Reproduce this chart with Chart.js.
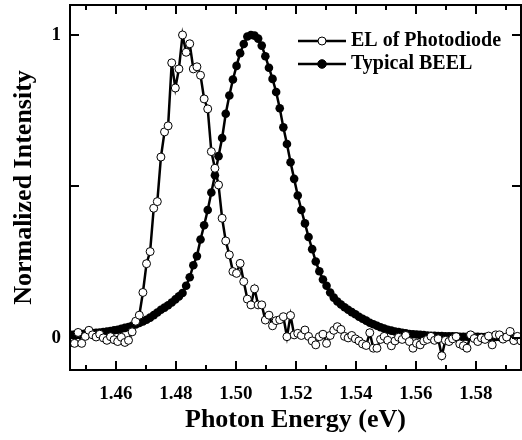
<!DOCTYPE html>
<html lang="en">
<head>
  <meta charset="UTF-8">
  <title>EL vs BEEL spectra</title>
  <script src="https://cdn.jsdelivr.net/npm/chart.js"></script>
  <style>
    html, body { margin: 0; padding: 0; background: #fff; overflow: hidden; }
    canvas { display: block; }
  </style>
</head>
<body>
  <canvas id="spectra" width="526" height="440"></canvas>

  <script>
    // photon energy grid (eV), shared by both spectra
    const energy = [
      1.4450, 1.4462, 1.4474, 1.4486, 1.4498, 1.4510, 1.4522, 1.4534, 1.4546, 1.4558,
      1.4570, 1.4582, 1.4594, 1.4606, 1.4618, 1.4630, 1.4642, 1.4654, 1.4666, 1.4678,
      1.4690, 1.4702, 1.4714, 1.4726, 1.4738, 1.4750, 1.4762, 1.4774, 1.4786, 1.4798,
      1.4810, 1.4822, 1.4834, 1.4846, 1.4858, 1.4870, 1.4882, 1.4894, 1.4906, 1.4918,
      1.4930, 1.4942, 1.4954, 1.4966, 1.4978, 1.4990, 1.5002, 1.5014, 1.5026, 1.5038,
      1.5050, 1.5062, 1.5074, 1.5086, 1.5098, 1.5110, 1.5122, 1.5134, 1.5146, 1.5158,
      1.5170, 1.5182, 1.5194, 1.5206, 1.5218, 1.5230, 1.5242, 1.5254, 1.5266, 1.5278,
      1.5290, 1.5302, 1.5314, 1.5326, 1.5338, 1.5350, 1.5362, 1.5374, 1.5386, 1.5398,
      1.5410, 1.5422, 1.5434, 1.5446, 1.5458, 1.5470, 1.5482, 1.5494, 1.5506, 1.5518,
      1.5530, 1.5542, 1.5554, 1.5566, 1.5578, 1.5590, 1.5602, 1.5614, 1.5626, 1.5638,
      1.5650, 1.5662, 1.5674, 1.5686, 1.5698, 1.5710, 1.5722, 1.5734, 1.5746, 1.5758,
      1.5770, 1.5782, 1.5794, 1.5806, 1.5818, 1.5830, 1.5842, 1.5854, 1.5866, 1.5878,
      1.5890, 1.5902, 1.5914, 1.5926, 1.5938, 1.5950
    ];

    // normalized EL of the photodiode
    const elPhotodiode = [
      -0.015, -0.018, 0.018, -0.018, 0.005, 0.025, 0.010, 0.003, 0.012, 0.000,
      -0.008, 0.004, -0.006, -0.012, 0.002, -0.015, -0.008, 0.020, 0.055, 0.075,
      0.150, 0.245, 0.285, 0.428, 0.450, 0.597, 0.680, 0.700, 0.908, 0.825,
      0.888, 1.000, 0.943, 0.971, 0.888, 0.895, 0.867, 0.789, 0.756, 0.615,
      0.560, 0.505, 0.395, 0.320, 0.274, 0.219, 0.213, 0.246, 0.186, 0.128,
      0.109, 0.162, 0.109, 0.109, 0.059, 0.075, 0.040, 0.057, 0.060, 0.070,
      0.004, 0.074, 0.010, 0.015, 0.008, 0.026, 0.005, -0.010, -0.023, 0.004,
      0.012, -0.018, 0.008, 0.025, 0.037, 0.028, 0.005, 0.000, 0.008, -0.003,
      -0.010, -0.020, -0.025, 0.017, -0.034, -0.034, -0.005, 0.005, -0.008, -0.026,
      -0.010, 0.002, -0.005, 0.008, -0.012, -0.034, -0.018, -0.023, -0.010, -0.005,
      0.005, -0.008, -0.003, -0.059, -0.008, -0.012, -0.003, 0.004, -0.020, -0.026,
      -0.034, 0.010, -0.002, -0.012, 0.000, -0.005, 0.006, -0.023, 0.010, 0.010,
      -0.004, 0.003, 0.021, -0.009, 0.005, -0.010
    ];

    // normalized typical BEEL spectrum
    const typicalBeel = [
      0.010, 0.011, 0.012, 0.013, 0.014, 0.015, 0.016, 0.017, 0.018, 0.019,
      0.021, 0.023, 0.025, 0.027, 0.030, 0.033, 0.036, 0.040, 0.044, 0.049,
      0.054, 0.060, 0.067, 0.075, 0.084, 0.093, 0.100, 0.108, 0.117, 0.127,
      0.137, 0.148, 0.172, 0.200, 0.240, 0.270, 0.325, 0.372, 0.422, 0.480,
      0.537, 0.600, 0.660, 0.740, 0.800, 0.853, 0.898, 0.940, 0.970, 0.995,
      1.000, 0.998, 0.988, 0.965, 0.930, 0.892, 0.855, 0.812, 0.758, 0.695,
      0.640, 0.580, 0.525, 0.470, 0.422, 0.378, 0.333, 0.293, 0.252, 0.220,
      0.193, 0.172, 0.150, 0.133, 0.120, 0.110, 0.101, 0.093, 0.085, 0.078,
      0.070, 0.063, 0.057, 0.050, 0.045, 0.040, 0.035, 0.031, 0.027, 0.024,
      0.021, 0.019, 0.017, 0.015, 0.013, 0.012, 0.011, 0.010, 0.009, 0.008,
      0.007, 0.007, 0.006, 0.006, 0.005, 0.005, 0.005, 0.005, 0.004, 0.004,
      0.004, 0.004, 0.004, 0.004, 0.003, 0.003, 0.003, 0.003, 0.003, 0.003,
      0.003, 0.003, 0.003, 0.003, 0.003, 0.003
    ];

    const xMajorTicks = [1.46, 1.48, 1.50, 1.52, 1.54, 1.56, 1.58];
    const xMinorTicks = [1.45, 1.47, 1.49, 1.51, 1.53, 1.55, 1.57, 1.59];
    const yTicks = [0, 0.5, 1];
    const yTickLabels = ['0', '', '1'];

    const SERIF = '"Liberation Serif", "Times New Roman", serif';

    const toPoints = ys => energy.map((e, i) => ({ x: e, y: ys[i] }));

    // frame, inward ticks and the line+marker legend
    const framePlugin = {
      id: 'frame',
      afterDraw(chart) {
        const { ctx, chartArea: a, scales } = chart;
        const xs = scales.x, ys = scales.y;
        ctx.save();
        ctx.strokeStyle = '#000';
        ctx.lineWidth = 2;
        ctx.strokeRect(a.left, a.top, a.right - a.left, a.bottom - a.top);

        ctx.beginPath();
        const xTick = (v, len) => {
          const px = Math.round(xs.getPixelForValue(v));
          ctx.moveTo(px, a.bottom); ctx.lineTo(px, a.bottom - len);
          ctx.moveTo(px, a.top); ctx.lineTo(px, a.top + len);
        };
        xMajorTicks.forEach(v => xTick(v, 9));
        xMinorTicks.forEach(v => xTick(v, 5));
        yTicks.forEach(v => {
          const py = Math.round(ys.getPixelForValue(v));
          ctx.moveTo(a.left, py); ctx.lineTo(a.left + 9, py);
          ctx.moveTo(a.right, py); ctx.lineTo(a.right - 9, py);
        });
        ctx.stroke();

        // legend
        ctx.font = 'bold 20px ' + SERIF;
        ctx.textBaseline = 'middle';
        ctx.textAlign = 'left';
        const rows = [{ ds: chart.data.datasets[0], y: 41 }, { ds: chart.data.datasets[1], y: 64 }];
        rows.forEach(r => {
          ctx.beginPath();
          ctx.lineWidth = 2.5;
          ctx.moveTo(298, r.y); ctx.lineTo(346, r.y);
          ctx.stroke();
          ctx.beginPath();
          ctx.arc(322, r.y, r.ds.pointRadius, 0, Math.PI * 2);
          ctx.fillStyle = r.ds.pointBackgroundColor;
          ctx.fill();
          ctx.lineWidth = 1;
          ctx.stroke();
          ctx.fillStyle = '#000';
          ctx.fillText(r.ds.label, 351, r.y);
        });
        ctx.restore();
      }
    };

    new Chart(document.getElementById('spectra'), {
      type: 'line',
      data: {
        datasets: [
          {
            label: 'EL of Photodiode',
            data: toPoints(elPhotodiode),
            borderColor: '#000',
            borderWidth: 2.5,
            pointRadius: 4,
            pointBorderWidth: 1,
            pointBackgroundColor: '#fff',
            pointBorderColor: '#000',
            tension: 0
          },
          {
            label: 'Typical BEEL',
            data: toPoints(typicalBeel),
            borderColor: '#000',
            borderWidth: 2.5,
            pointRadius: 4.3,
            pointBorderWidth: 0,
            pointBackgroundColor: '#000',
            pointBorderColor: '#000',
            tension: 0
          }
        ]
      },
      options: {
        responsive: false,
        animation: false,
        layout: { padding: { top: 5, right: 3, left: 0, bottom: 0 } },
        plugins: {
          legend: { display: false },
          tooltip: { enabled: false }
        },
        scales: {
          x: {
            type: 'linear',
            min: 1.4447,
            max: 1.595,
            grid: { display: false },
            border: { display: false },
            afterBuildTicks: s => { s.ticks = xMajorTicks.map(v => ({ value: v })); },
            afterFit: s => { s.height = 70; s.paddingLeft = 0; s.paddingRight = 0; },
            ticks: {
              color: '#000',
              padding: 5,
              maxRotation: 0,
              font: { family: SERIF, size: 19, weight: 'bold' },
              callback: v => v.toFixed(2)
            },
            title: {
              display: true,
              text: 'Photon Energy (eV)',
              color: '#000',
              font: { family: SERIF, size: 26, weight: 'bold' },
              padding: { top: 0, bottom: 4 }
            }
          },
          y: {
            min: -0.106,
            max: 1.099,
            grid: { display: false },
            border: { display: false },
            afterBuildTicks: s => { s.ticks = yTicks.map(v => ({ value: v })); },
            afterFit: s => { s.width = 70; s.paddingTop = 0; s.paddingBottom = 0; },
            ticks: {
              color: '#000',
              padding: 1,
              font: { family: SERIF, size: 19, weight: 'bold' },
              callback: v => yTickLabels[yTicks.indexOf(v)]
            },
            title: {
              display: true,
              text: 'Normalized Intensity',
              color: '#000',
              font: { family: SERIF, size: 26, weight: 'bold' },
              padding: { top: 9, bottom: 0 }
            }
          }
        }
      },
      plugins: [framePlugin]
    });
  </script>
</body>
</html>
